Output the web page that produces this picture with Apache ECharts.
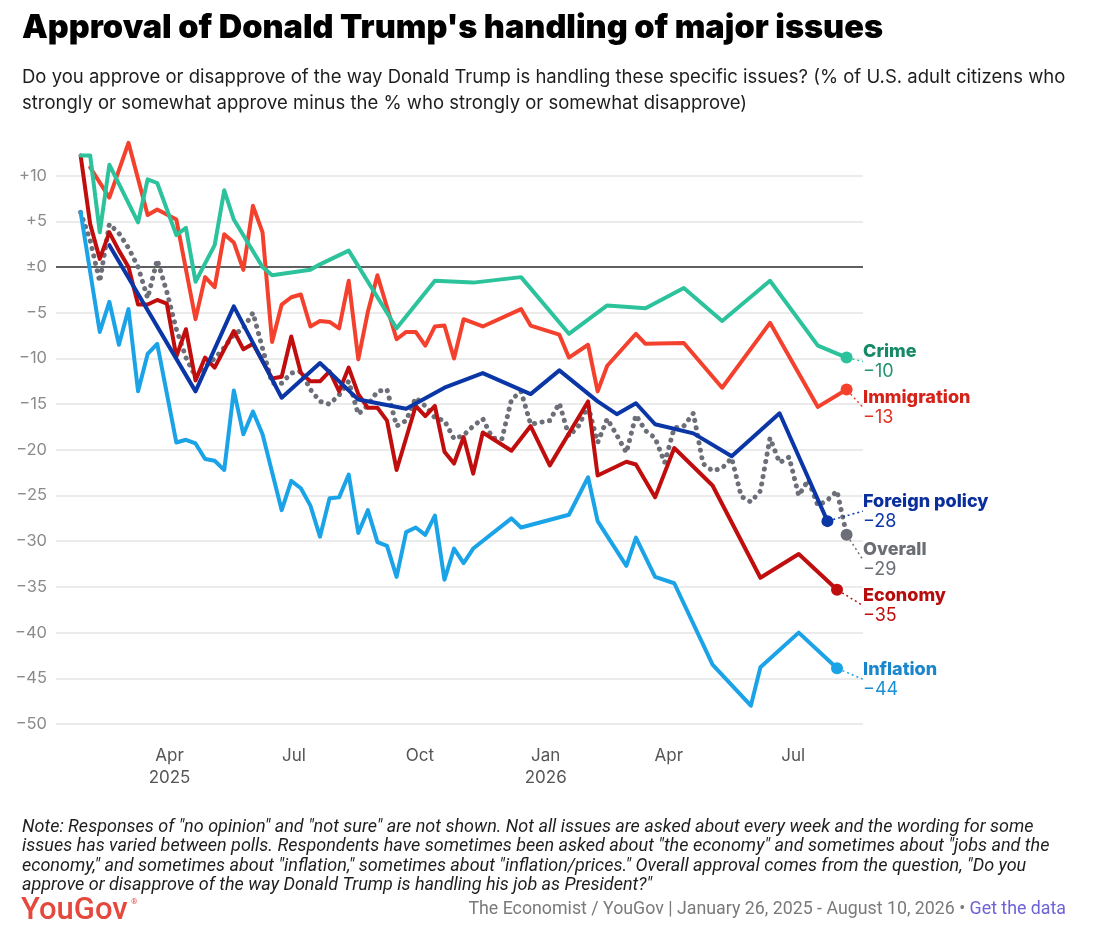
<!DOCTYPE html>
<html>
<head>
<meta charset="utf-8">
<script src="https://cdn.jsdelivr.net/npm/echarts@6/dist/echarts.min.js"></script>
</head>
<body style="margin:0;background:#fff">
<div id="chart" style="width:1100px;height:951px"></div>
<script>
// weekly poll results, net approval (approve - disapprove)
var crime = [
  ['2025-01-26',12.2],['2025-02-02',12.2],['2025-02-09',3.8],['2025-02-16',11.2],['2025-03-09',4.9],
  ['2025-03-16',9.6],['2025-03-23',9.2],['2025-04-06',3.5],['2025-04-13',4.3],['2025-04-20',-1.6],
  ['2025-05-04',2.4],['2025-05-11',8.4],['2025-05-18',5.2],['2025-06-08',0],['2025-06-15',-0.9],
  ['2025-07-13',-0.3],['2025-07-20',0.3],['2025-08-10',1.8],['2025-09-14',-6.7],['2025-10-12',-1.5],
  ['2025-11-09',-1.7],['2025-12-14',-1.1],['2026-01-18',-7.3],['2026-02-15',-4.2],['2026-03-15',-4.5],
  ['2026-04-12',-2.3],['2026-05-10',-5.9],['2026-06-14',-1.5],['2026-07-19',-8.6],['2026-08-09',-9.9]
];
var immigration = [
  ['2025-02-02',10.9],['2025-02-16',7.6],['2025-03-02',13.6],['2025-03-16',5.7],['2025-03-23',6.3],
  ['2025-04-06',5.2],['2025-04-20',-5.7],['2025-04-27',-1.1],['2025-05-04',-2.2],['2025-05-11',3.6],
  ['2025-05-18',2.7],['2025-05-25',-0.3],['2025-06-01',6.7],['2025-06-08',3.8],['2025-06-15',-8.2],
  ['2025-06-22',-4.1],['2025-06-29',-3.3],['2025-07-06',-3.0],['2025-07-13',-6.5],['2025-07-20',-5.9],
  ['2025-07-27',-6.0],['2025-08-03',-6.7],['2025-08-10',-1.5],['2025-08-17',-10.1],['2025-08-24',-4.9],
  ['2025-08-31',-0.9],['2025-09-14',-7.9],['2025-09-21',-7.1],['2025-09-28',-7.1],['2025-10-05',-8.6],
  ['2025-10-12',-6.5],['2025-10-19',-6.4],['2025-10-26',-10],['2025-11-02',-5.7],['2025-11-16',-6.5],
  ['2025-12-14',-4.6],['2025-12-21',-6.4],['2026-01-11',-7.4],['2026-01-18',-9.9],['2026-02-01',-8.5],
  ['2026-02-08',-13.6],['2026-02-15',-10.8],['2026-03-08',-7.3],['2026-03-15',-8.4],['2026-04-12',-8.3],
  ['2026-05-10',-13.2],['2026-06-14',-6.1],['2026-07-19',-15.3],['2026-08-09',-13.4]
];
var foreignPolicy = [
  ['2025-02-16',2.4],['2025-04-20',-13.6],['2025-05-18',-4.3],['2025-06-22',-14.3],['2025-07-20',-10.5],
  ['2025-08-17',-14.5],['2025-09-21',-15.5],['2025-10-19',-13.2],['2025-11-16',-11.6],['2025-12-21',-13.9],
  ['2026-01-11',-11.3],['2026-02-08',-14.7],['2026-02-22',-16.1],['2026-03-08',-14.9],['2026-03-22',-17.2],
  ['2026-04-19',-18.2],['2026-05-17',-20.7],['2026-06-21',-16],['2026-07-26',-27.8]
];
var overall = [
  ['2025-01-26',6.0],['2025-02-02',2.9],['2025-02-09',-1.6],['2025-02-16',4.7],['2025-02-23',3.7],
  ['2025-03-02',2.1],['2025-03-09',0],['2025-03-16',-3.4],['2025-03-23',0.8],['2025-03-30',-2.7],
  ['2025-04-06',-6.8],['2025-04-13',-9.9],['2025-04-20',-12],['2025-04-27',-10.9],['2025-05-04',-10],
  ['2025-05-11',-8.8],['2025-05-18',-7.4],['2025-05-25',-6.7],['2025-06-01',-5],['2025-06-08',-8.9],
  ['2025-06-15',-12.7],['2025-06-22',-12.7],['2025-06-29',-11.6],['2025-07-06',-11.4],['2025-07-13',-13.4],
  ['2025-07-20',-14.7],['2025-07-27',-15],['2025-08-03',-14],['2025-08-10',-12.5],['2025-08-17',-16.1],
  ['2025-08-24',-15.1],['2025-08-31',-13.6],['2025-09-07',-13.4],['2025-09-14',-17.4],['2025-09-21',-16.8],
  ['2025-09-28',-14.3],['2025-10-05',-15.2],['2025-10-12',-16.5],['2025-10-19',-16.8],['2025-10-26',-18.8],
  ['2025-11-02',-18.4],['2025-11-09',-17.4],['2025-11-16',-16.6],['2025-11-23',-18.7],['2025-11-30',-18.8],
  ['2025-12-07',-14.5],['2025-12-14',-13.6],['2025-12-21',-17.2],['2025-12-28',-17],['2026-01-04',-16.8],
  ['2026-01-11',-14.9],['2026-01-18',-18.5],['2026-01-25',-17.4],['2026-02-01',-15.2],['2026-02-08',-19.2],
  ['2026-02-15',-16.6],['2026-02-22',-18.4],['2026-03-01',-20.3],['2026-03-08',-16.2],['2026-03-15',-17.9],
  ['2026-03-22',-18.7],['2026-03-29',-21.4],['2026-04-05',-17.6],['2026-04-12',-17.4],['2026-04-19',-16],
  ['2026-04-26',-21.5],['2026-05-03',-22.3],['2026-05-10',-22],['2026-05-17',-20.9],['2026-05-24',-25.1],
  ['2026-05-31',-25.7],['2026-06-07',-24.5],['2026-06-14',-18.7],['2026-06-21',-21.4],['2026-06-28',-20.8],
  ['2026-07-05',-25],['2026-07-12',-23.3],['2026-07-19',-26.1],['2026-07-26',-25.5],['2026-08-02',-24.5],
  ['2026-08-09',-29.3]
];
var economy = [
  ['2025-01-26',12.2],['2025-02-02',4.7],['2025-02-09',0.9],['2025-02-16',3.8],['2025-02-23',1.8],
  ['2025-03-02',0],['2025-03-09',-4.1],['2025-03-16',-4.1],['2025-03-23',-3.6],['2025-03-30',-4.0],
  ['2025-04-06',-9.8],['2025-04-13',-6.8],['2025-04-20',-12.4],['2025-04-27',-9.9],['2025-05-04',-11],
  ['2025-05-18',-7.0],['2025-05-25',-9.0],['2025-06-01',-8.4],['2025-06-15',-12.2],['2025-06-22',-12.0],
  ['2025-06-29',-7.6],['2025-07-06',-11.6],['2025-07-13',-12.5],['2025-07-20',-12.5],['2025-07-27',-11.4],
  ['2025-08-03',-13.6],['2025-08-10',-11],['2025-08-17',-13.9],['2025-08-24',-15.4],['2025-08-31',-15.4],
  ['2025-09-07',-16.8],['2025-09-14',-22.2],['2025-09-28',-15.2],['2025-10-05',-16.3],['2025-10-12',-15.2],
  ['2025-10-19',-20.2],['2025-10-26',-21.5],['2025-11-02',-18.6],['2025-11-09',-22.6],['2025-11-16',-18.1],
  ['2025-12-07',-20.1],['2025-12-21',-17.4],['2026-01-04',-21.7],['2026-02-01',-14.7],['2026-02-08',-22.8],
  ['2026-03-01',-21.3],['2026-03-08',-21.6],['2026-03-22',-25.2],['2026-04-05',-19.8],['2026-05-03',-23.9],
  ['2026-06-07',-34],['2026-07-05',-31.4],['2026-08-02',-35.3]
];
var inflation = [
  ['2025-01-26',6.0],['2025-02-09',-7.1],['2025-02-16',-3.8],['2025-02-23',-8.5],['2025-03-02',-4.6],
  ['2025-03-09',-13.6],['2025-03-16',-9.5],['2025-03-23',-8.4],['2025-04-06',-19.2],['2025-04-13',-18.9],
  ['2025-04-20',-19.3],['2025-04-27',-21],['2025-05-04',-21.2],['2025-05-11',-22.2],['2025-05-18',-13.5],
  ['2025-05-25',-18.3],['2025-06-01',-15.8],['2025-06-08',-18.3],['2025-06-22',-26.6],['2025-06-29',-23.4],
  ['2025-07-06',-24.2],['2025-07-13',-26.1],['2025-07-20',-29.5],['2025-07-27',-25.3],['2025-08-03',-25.2],
  ['2025-08-10',-22.7],['2025-08-17',-29.1],['2025-08-24',-26.6],['2025-08-31',-30.1],['2025-09-07',-30.5],
  ['2025-09-14',-33.9],['2025-09-21',-29],['2025-09-28',-28.5],['2025-10-05',-29.3],['2025-10-12',-27.2],
  ['2025-10-19',-34.2],['2025-10-26',-30.8],['2025-11-02',-32.4],['2025-11-09',-30.8],['2025-12-07',-27.5],
  ['2025-12-14',-28.5],['2026-01-18',-27.1],['2026-02-01',-23],['2026-02-08',-27.8],['2026-03-01',-32.7],
  ['2026-03-08',-29.6],['2026-03-22',-33.9],['2026-04-05',-34.6],['2026-05-03',-43.5],['2026-05-31',-48],
  ['2026-06-07',-43.8],['2026-07-05',-40],['2026-08-02',-43.9]
];

var issueNames = ['Crime', 'Immigration', 'Foreign policy', 'Overall', 'Economy', 'Inflation'];
var xTickDates = ['2025-04-01', '2025-07-01', '2025-10-01', '2026-01-01', '2026-04-01', '2026-07-01'];
var xTickLabels = ['Apr\n2025', 'Jul', 'Oct', 'Jan\n2026', 'Apr', 'Jul'];

function ts(s) {
  var p = s.split('-');
  return new Date(+p[0], +p[1] - 1, +p[2]).getTime();
}
function toPts(arr) {
  return arr.map(function (d) { return [ts(d[0]), d[1]]; });
}
function fmtNum(v) {
  var r = Math.round(v);
  if (r > 0) return '+' + r;
  if (r === 0) return '±0';
  return '\u2212' + Math.abs(r);
}

var styles = {
  'Crime':          { data: crime,         line: '#2cc39c', name: '#168a66', val: '#23946f', dy: 4 },
  'Immigration':    { data: immigration,   line: '#f4412d', name: '#d5231a', val: '#e2301f', dy: 18 },
  'Foreign policy': { data: foreignPolicy, line: '#0b36a6', name: '#0a2f9c', val: '#0b36a6', dy: -10 },
  'Overall':        { data: overall,       line: '#6c6f78', name: '#6a6d74', val: '#6c6f78', dy: 25 },
  'Economy':        { data: economy,       line: '#c00e0e', name: '#b80c0c', val: '#c00e0e', dy: 16 },
  'Inflation':      { data: inflation,     line: '#1ba3e8', name: '#1a86cc', val: '#1a8fd6', dy: 11 }
};

var dom = document.getElementById('chart');
var myChart = echarts.init(dom);

var series = [];
var drawOrder = ['Overall', 'Inflation', 'Economy', 'Foreign policy', 'Immigration', 'Crime'];
drawOrder.forEach(function (name) {
  var s = styles[name];
  var dotted = name === 'Overall';
  series.push({
    name: name,
    type: 'line',
    data: toPts(s.data),
    symbol: 'none',
    animation: false,
    silent: true,
    z: dotted ? 2 : 3,
    lineStyle: dotted
      ? { color: s.line, width: 5, type: [0.1, 7.5], cap: 'round', join: 'round' }
      : { color: s.line, width: 4, join: 'round', cap: 'round' }
  });
});
issueNames.forEach(function (name) {
  var s = styles[name];
  var last = s.data[s.data.length - 1];
  series.push({
    name: name + ' end',
    type: 'scatter',
    data: [[ts(last[0]), last[1]]],
    symbol: 'circle',
    symbolSize: 12,
    itemStyle: { color: s.line, opacity: 1 },
    animation: false,
    silent: true,
    z: 5,
    label: {
      show: true,
      position: 'right',
      formatter: '{n|' + name + '}\n{v|' + fmtNum(last[1]) + '}',
      rich: {
        n: { fontFamily: 'Inter', fontWeight: 800, fontSize: 18, color: s.name, lineHeight: 20 },
        v: { fontFamily: 'Inter', fontWeight: 400, fontSize: 18, color: s.val, lineHeight: 20 }
      }
    },
    labelLine: {
      show: true,
      length2: 0,
      lineStyle: { color: s.line, width: 1.5, type: [2, 3] }
    },
    labelLayout: (function (dy) {
      return function (p) {
        return {
          x: 863,
          y: p.rect.y + p.rect.height / 2 + dy,
          align: 'left',
          verticalAlign: 'middle'
        };
      };
    })(s.dy)
  });
});

var splitColors = [];
for (var i = 0; i < 14; i++) {
  splitColors.push(i === 10 ? '#2b2b2b' : (i === 13 ? 'rgba(0,0,0,0)' : '#e4e4e4'));
}

var option = {
  backgroundColor: '#fff',
  animation: false,
  grid: { left: 56, right: 237, top: 130, bottom: 227 },
  xAxis: {
    type: 'value',
    min: ts('2025-01-08'),
    max: ts('2026-08-21'),
    axisLine: { show: false },
    axisTick: { show: false },
    splitLine: { show: false },
    axisLabel: {
      customValues: xTickDates.map(ts),
      formatter: function (v) {
        for (var i = 0; i < xTickDates.length; i++) {
          if (Math.abs(ts(xTickDates[i]) - v) < 43200000) return xTickLabels[i];
        }
        return '';
      },
      color: '#555',
      fontFamily: 'Inter',
      fontSize: 17,
      lineHeight: 22,
      margin: 21
    }
  },
  yAxis: {
    type: 'value',
    min: -50,
    max: 15,
    interval: 5,
    axisLine: { show: false },
    axisTick: { show: false },
    axisLabel: {
      color: '#8b8b8b',
      fontFamily: 'Inter',
      fontSize: 16.5,
      margin: 9,
      formatter: function (v) { return v >= 15 ? '' : fmtNum(v); }
    },
    splitLine: { show: true, lineStyle: { color: splitColors, width: 1.5 } }
  },
  graphic: [
    {
      type: 'text', left: 22, top: 12,
      style: {
        text: "Approval of Donald Trump's handling of major issues",
        fontFamily: 'Inter', fontWeight: 900, fontSize: 32.5, fill: '#000'
      }
    },
    {
      type: 'text', left: 22, top: 64,
      style: {
        text: 'Do you approve or disapprove of the way Donald Trump is handling these specific issues? (% of U.S. adult citizens who\nstrongly or somewhat approve minus the % who strongly or somewhat disapprove)',
        fontFamily: 'Inter', fontSize: 18.5, lineHeight: 26, fill: '#1e1e1e'
      }
    },
    {
      type: 'text', left: 22, top: 818,
      style: {
        text: 'Note: Responses of "no opinion" and "not sure" are not shown. Not all issues are asked about every week and the wording for some\n' +
              'issues has varied between polls. Respondents have sometimes been asked about "the economy" and sometimes about "jobs and the\n' +
              'economy," and sometimes about "inflation," sometimes about "inflation/prices." Overall approval comes from the question, "Do you\n' +
              'approve or disapprove of the way Donald Trump is handling his job as President?"',
        fontFamily: 'Roboto', fontStyle: 'italic', fontSize: 18, lineHeight: 19.3, fill: '#1e1e1e'
      }
    },
    {
      type: 'text', left: 21, top: 896,
      style: {
        text: 'YouGov', fontFamily: 'Roboto', fontWeight: 500, fontSize: 31, fill: '#e5483c'
      }
    },
    {
      type: 'text', left: 131, top: 898,
      style: { text: '®', fontFamily: 'Roboto', fontSize: 8, fill: '#e5483c' }
    },
    {
      type: 'text', right: 34, top: 901,
      style: {
        text: '{a|The Economist / YouGov | January 26, 2025 - August 10, 2026 \u2022 }{b|Get the data}',
        rich: {
          a: { fontFamily: 'Roboto', fontSize: 17.8, fill: '#7a7a7a', color: '#7a7a7a' },
          b: { fontFamily: 'Roboto', fontSize: 17.8, fill: '#6d62d8', color: '#6d62d8' }
        }
      }
    }
  ],
  series: series
};

myChart.setOption(option);
</script>
</body>
</html>
